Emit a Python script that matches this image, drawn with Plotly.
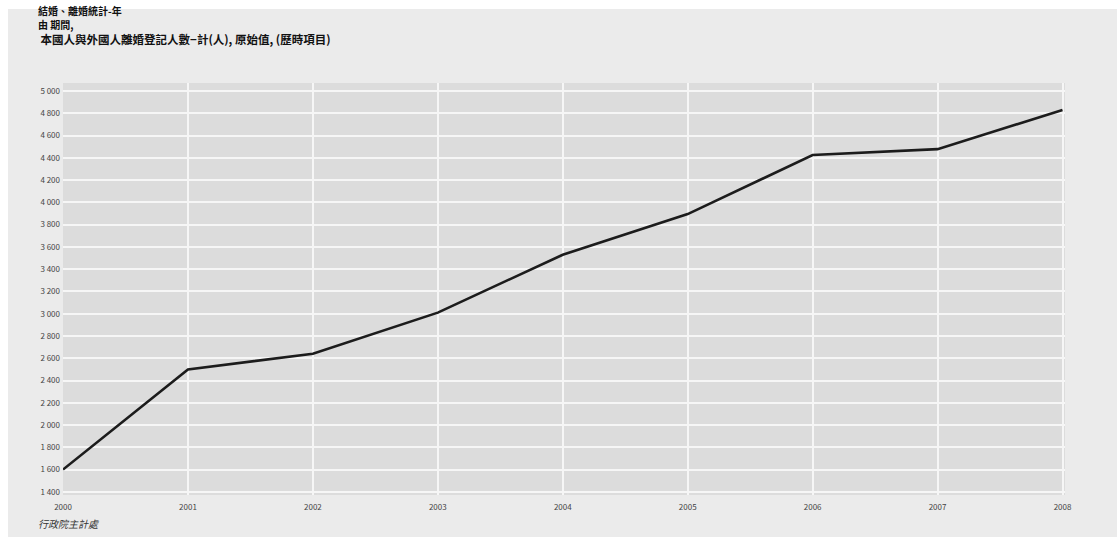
import plotly.graph_objects as go

# Annual count of divorce registrations between nationals and foreigners
years = [2000, 2001, 2002, 2003, 2004, 2005, 2006, 2007, 2008]
divorces = [1600, 2500, 2640, 3010, 3530, 3895, 4425, 4478, 4830]

y_ticks = [1400, 1600, 1800, 2000, 2200, 2400, 2600, 2800, 3000, 3200,
           3400, 3600, 3800, 4000, 4200, 4400, 4600, 4800, 5000]
y_tick_labels = ["1 400", "1 600", "1 800", "2 000", "2 200", "2 400", "2 600",
                 "2 800", "3 000", "3 200", "3 400", "3 600", "3 800", "4 000",
                 "4 200", "4 400", "4 600", "4 800", "5 000"]
x_tick_labels = [str(y) for y in years]

title_lines = ["結婚、離婚統計-年", "由 期間,",
               " 本國人與外國人離婚登記人數−計(人), 原始值, (歷時項目)"]
source_text = "行政院主計處"

W, H = 1117, 537
L, R, T, B = 63, 52, 83, 42
pw, ph = W - L - R, H - T - B


def px_x(px):
    return (px - L) / pw


def px_y(py):
    return (H - B - py) / ph


font_family = "Noto Sans CJK TC, Noto Sans, sans-serif"

fig = go.Figure()
fig.add_trace(go.Scatter(
    x=years, y=divorces, mode="lines",
    line=dict(color="#1c1c1c", width=2.6),
    hoverinfo="x+y", showlegend=False,
))

# thin white frame along the top and left edges of the gray panel
for x0, x1, y0, y1 in [(0, W, 0, 9), (0, 8, 0, H)]:
    fig.add_shape(type="rect", xref="paper", yref="paper",
                  x0=px_x(x0), x1=px_x(x1), y0=px_y(y1), y1=px_y(y0),
                  fillcolor="#ffffff", line=dict(width=0), layer="below")

annotations = []
title_sizes = [10, 10, 11.5]
title_rows = [10.5, 24.5, 39]
for line, size, row in zip(title_lines, title_sizes, title_rows):
    annotations.append(dict(
        text="<b>" + line + "</b>", xref="paper", yref="paper",
        x=px_x(36), y=px_y(row), xanchor="left", yanchor="middle",
        showarrow=False,
        font=dict(family=font_family, size=size, color="#111111"),
    ))
annotations.append(dict(
    text="<i>" + source_text + "</i>", xref="paper", yref="paper",
    x=px_x(36), y=px_y(523), xanchor="left", yanchor="middle",
    showarrow=False, font=dict(family=font_family, size=10, color="#333333"),
))

fig.update_layout(
    width=W, height=H,
    margin=dict(l=L, r=R, t=T, b=B, pad=0),
    paper_bgcolor="#ebebeb",
    plot_bgcolor="#dcdcdc",
    annotations=annotations,
    xaxis=dict(
        range=[2000, 2008.02], tickvals=years, ticktext=x_tick_labels,
        showgrid=True, gridcolor="#f6f6f6", gridwidth=1.5,
        zeroline=False, showline=False, ticks="", ticklabelstandoff=6,
        tickfont=dict(family=font_family, size=8, color="#444444"),
        fixedrange=True,
    ),
    yaxis=dict(
        range=[1372, 5072], tickvals=y_ticks, ticktext=y_tick_labels,
        showgrid=True, gridcolor="#f6f6f6", gridwidth=1.5,
        zeroline=False, showline=False, ticks="", ticklabelstandoff=2,
        tickfont=dict(family=font_family, size=8, color="#444444"),
        fixedrange=True,
    ),
)

fig.write_html("out.html")
